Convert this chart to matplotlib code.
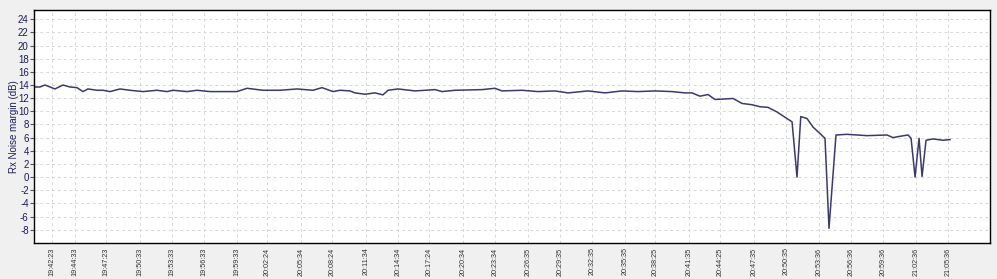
import matplotlib
matplotlib.use("Agg")
import matplotlib.pyplot as plt

plt.rcParams["font.family"] = ["Liberation Sans", "DejaVu Sans"]
plt.rcParams["axes.unicode_minus"] = False

# time of each sample, minutes after 19:40:00
minutes = [0.77, 1.30, 1.76, 2.69, 3.43, 4.08, 4.73, 5.29, 5.75, 6.59, 7.15, 7.80,
           8.73, 9.65, 10.86, 12.16, 13.09, 13.65, 14.95, 15.88, 17.09, 18.29, 19.59,
           20.52, 22.00, 23.58, 25.16, 26.65, 27.48, 28.50, 29.15, 30.08, 30.54, 31.47,
           32.40, 33.14, 33.61, 34.54, 36.12, 37.97, 38.62, 39.83, 42.34, 43.54, 44.19,
           46.05, 47.53, 49.11, 50.32, 52.17, 53.75, 55.33, 56.81, 58.39, 59.97, 61.18,
           61.83, 62.57, 63.32, 63.97, 65.64, 66.47, 67.40, 68.14, 68.89, 69.72, 70.65,
           71.12, 71.58, 71.93, 72.51, 73.07, 73.72, 74.18, 74.55, 75.20, 76.22, 78.08,
           79.94, 80.49, 81.14, 81.89, 82.17, 82.54, 82.91, 83.19, 83.56, 84.21, 85.14,
           85.79]
# Rx noise margin (dB)
margin = [13.7, 13.7, 14.0, 13.4, 14.0, 13.7, 13.6, 13.0, 13.4, 13.2, 13.2, 13.0,
          13.4, 13.2, 13.0, 13.2, 13.0, 13.2, 13.0, 13.2, 13.0, 13.0, 13.0,
          13.5, 13.2, 13.2, 13.4, 13.2, 13.6, 13.0, 13.2, 13.1, 12.8, 12.6,
          12.8, 12.5, 13.2, 13.4, 13.1, 13.3, 13.0, 13.2, 13.3, 13.5, 13.1,
          13.2, 13.0, 13.1, 12.8, 13.1, 12.8, 13.1, 13.0, 13.1, 13.0, 12.8,
          12.8, 12.3, 12.55, 11.8, 11.95, 11.2, 11.0, 10.7, 10.6, 9.9, 8.9,
          8.4, 0.0, 9.2, 8.9, 7.6, 6.6, 5.9, -7.8, 6.4, 6.5, 6.3,
          6.4, 6.0, 6.2, 6.4, 5.9, 0.0, 5.9, 0.1, 5.6, 5.8, 5.6,
          5.7]

tick_labels = ["19:42:23", "19:44:33", "19:47:23", "19:50:33", "19:53:33", "19:56:33",
               "19:59:33", "20:02:24", "20:05:34", "20:08:24", "20:11:34", "20:14:34",
               "20:17:24", "20:20:34", "20:23:34", "20:26:35", "20:29:35", "20:32:35",
               "20:35:35", "20:38:25", "20:41:35", "20:44:25", "20:47:35", "20:50:35",
               "20:53:36", "20:56:36", "20:59:36", "21:02:36", "21:05:36"]


def to_minutes(s):
    h, m, sec = [int(p) for p in s.split(":")]
    return (h - 19) * 60 + m - 40 + sec / 60.0


tick_pos = [to_minutes(s) for s in tick_labels]

navy = "#1c1c5c"
fig = plt.figure(figsize=(9.97, 2.79), dpi=100, facecolor="#f0f0f0")
ax = fig.add_axes([0.0344, 0.128, 0.9586, 0.836])
ax.set_facecolor("white")

ax.plot(minutes, margin, color="#3a3a6e", linewidth=1.1)

ax.set_xlim(0.77, 89.5)
ax.set_ylim(-10.07, 25.4)
ax.set_yticks(range(-8, 25, 2))
ax.set_xticks(tick_pos)
ax.set_xticklabels(tick_labels, rotation=90)
ax.tick_params(axis="y", labelsize=7, labelcolor=navy, length=3, pad=1, color="#555555")
ax.tick_params(axis="x", labelsize=5.2, labelcolor="#333333", length=0, pad=3)
ax.set_ylabel("Rx Noise margin (dB)", fontsize=7, color=navy, labelpad=-1)

ax.grid(True, linestyle=(0, (3, 3)), color="#d8d8d8", linewidth=0.7)
for sp in ax.spines.values():
    sp.set_color("black")
    sp.set_linewidth(1.0)

fig.savefig("out.png", dpi=100, facecolor=fig.get_facecolor())
